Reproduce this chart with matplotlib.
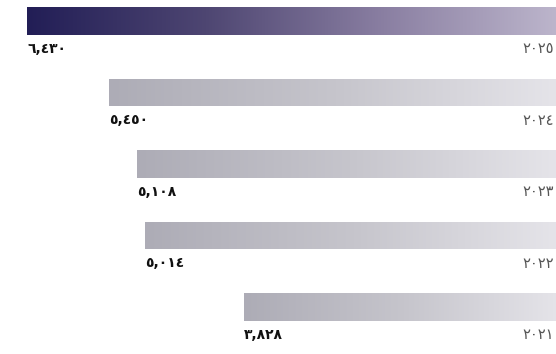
import numpy as np
import matplotlib
matplotlib.use("Agg")
import matplotlib.pyplot as plt
from matplotlib.colors import LinearSegmentedColormap

# yearly totals, latest year first
years = ["٢٠٢٥", "٢٠٢٤", "٢٠٢٣", "٢٠٢٢", "٢٠٢١"]
values = [6430, 5450, 5108, 5014, 3828]
value_labels = ["٦,٤٣٠", "٥,٤٥٠", "٥,١٠٨", "٥,٠١٤", "٣,٨٢٨"]

plt.rcParams["font.family"] = ["DejaVu Sans"]

fig = plt.figure(figsize=(5.56, 3.54), dpi=100)
ax = fig.add_axes([0, 0, 1, 1])

highlight = LinearSegmentedColormap.from_list("hl", ["#221e56", "#4e4672", "#8a7fa2", "#beb7cd"])
muted = LinearSegmentedColormap.from_list("mu", ["#adacb6", "#c6c5cc", "#e6e5ea"])

bar_h = 0.39
ypos = np.arange(len(values))
bars = ax.barh(ypos, values, height=bar_h, color="none", edgecolor="none")

grad = np.linspace(0, 1, 256).reshape(1, -1)
for i, (bar, v) in enumerate(zip(bars, values)):
    cmap = highlight if i == 0 else muted
    # x axis runs right-to-left, so the dark end sits at the bar's far end
    im = ax.imshow(grad[:, ::-1], cmap=cmap, aspect="auto",
                   extent=(0, v, i + bar_h / 2, i - bar_h / 2),
                   interpolation="bicubic", zorder=2)
    im.set_clip_path(bar)

    ax.text(v, i + 0.39, value_labels[i], ha="left", va="center",
            fontsize=10, fontweight="bold", color="#111111")
    # year sits against the right edge of the figure
    ax.text(0.997, i + 0.39, years[i], ha="right", va="center",
            fontsize=10.5, color="#555555",
            transform=ax.get_yaxis_transform())

ax.set_xlim(6754, 84)
ax.set_ylim(4.657, -0.294)
ax.axis("off")

fig.savefig("out.png", dpi=100)
